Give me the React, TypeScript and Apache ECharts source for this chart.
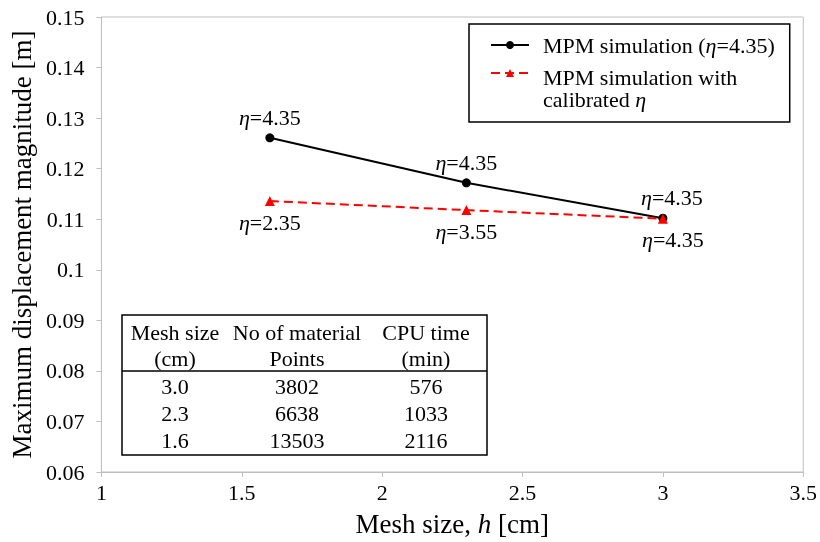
import React, { useEffect, useRef } from "react";
import * as echarts from "echarts";

// ---- data ----
const meshSizes = [1.6, 2.3, 3.0];
const dispConstant = [0.1261, 0.1172, 0.1102];
const dispCalibrated = [0.1136, 0.1118, 0.1101];
const etaConstant = ["4.35", "4.35", "4.35"];
const etaCalibrated = ["2.35", "3.55", "4.35"];
const seriesNames = ["MPM simulation (η=4.35)", "MPM simulation with calibrated η"];

const tableHeader1 = ["Mesh size", "No of material", "CPU time"];
const tableHeader2 = ["(cm)", "Points", "(min)"];
const tableMesh = ["3.0", "2.3", "1.6"];
const tablePoints = ["3802", "6638", "13503"];
const tableCpu = ["576", "1033", "2116"];

const FONT = "Times New Roman";
const AXIS_GRAY = "#bfbfbf";

export default function App() {
  const ref = useRef<HTMLDivElement>(null);

  useEffect(() => {
    const chart = echarts.init(ref.current as HTMLDivElement, null, { renderer: "svg" });

    const richBase = {
      r: { fontFamily: FONT, fontSize: 22, color: "#000" },
      i: { fontFamily: FONT, fontSize: 22, color: "#000", fontStyle: "italic" },
    };

    const colX = [175, 297, 426];
    const tableEls: any[] = [];
    tableEls.push({
      type: "rect",
      shape: { x: 122, y: 315, width: 365, height: 140 },
      style: { fill: "#fff", stroke: "#000", lineWidth: 1.5 },
    });
    tableEls.push({
      type: "line",
      shape: { x1: 122, y1: 371, x2: 487, y2: 371 },
      style: { stroke: "#000", lineWidth: 1.5 },
    });
    const addText = (t: string, x: number, y: number) =>
      tableEls.push({
        type: "text",
        style: {
          text: t,
          x,
          y,
          textAlign: "center",
          textVerticalAlign: "middle",
          font: "22px Liberation Serif",
          fill: "#000",
        },
      });
    tableHeader1.forEach((t, c) => addText(t, colX[c], 332));
    tableHeader2.forEach((t, c) => addText(t, colX[c], 358));
    const rowY = [386, 413, 440];
    tableMesh.forEach((_, r) => {
      addText(tableMesh[r], colX[0], rowY[r]);
      addText(tablePoints[r], colX[1], rowY[r]);
      addText(tableCpu[r], colX[2], rowY[r]);
    });

    const lastIdx = meshSizes.length - 1;

    const option: any = {
      animation: false,
      textStyle: { fontFamily: FONT },
      grid: {
        left: 99,
        right: 16,
        top: 17,
        bottom: 70,
        show: true,
        borderColor: AXIS_GRAY,
        borderWidth: 1,
        containLabel: false,
      },
      legend: {
        orient: "vertical",
        left: 469,
        top: 24,
        padding: [10, 15, 12, 21],
        itemGap: -20,
        itemWidth: 38,
        itemHeight: 10,
        borderColor: "#000",
        borderWidth: 1.5,
        backgroundColor: "#fff",
        data: [
          { name: seriesNames[0] },
          { name: seriesNames[1], textStyle: { padding: [30, 0, 0, 9] } },
        ],
        formatter: (name: string) =>
          name === seriesNames[0]
            ? "{r|MPM simulation (}{i|η}{r|=4.35)}"
            : "{r|MPM simulation with}\n{r|calibrated }{i|η}",
        textStyle: {
          fontFamily: FONT,
          fontSize: 22,
          lineHeight: 22,
          color: "#000",
          padding: [0, 0, 0, 9],
          rich: {
            r: { fontFamily: FONT, fontSize: 22, lineHeight: 22, color: "#000" },
            i: { fontFamily: FONT, fontSize: 22, lineHeight: 22, color: "#000", fontStyle: "italic" },
          },
        },
      },
      xAxis: {
        type: "value",
        min: 1,
        max: 3.5,
        interval: 0.5,
        name: "{r|Mesh size, }{i|h}{r| [cm]}",
        nameLocation: "middle",
        nameGap: 38,
        nameTextStyle: {
          fontFamily: FONT,
          fontSize: 27,
          color: "#000",
          rich: {
            r: { fontFamily: FONT, fontSize: 27, color: "#000" },
            i: { fontFamily: FONT, fontSize: 27, color: "#000", fontStyle: "italic" },
          },
        },
        axisLine: { show: true, lineStyle: { color: AXIS_GRAY, width: 1 } },
        axisTick: { show: true, length: 5, lineStyle: { color: AXIS_GRAY } },
        splitLine: { show: false },
        axisLabel: { fontFamily: FONT, fontSize: 22, color: "#000", margin: 9 },
      },
      yAxis: {
        type: "value",
        min: 0.06,
        max: 0.15,
        interval: 0.01,
        name: "Maximum displacement magnitude [m]",
        nameLocation: "middle",
        nameGap: 64,
        nameTextStyle: { fontFamily: FONT, fontSize: 27, color: "#000" },
        axisLine: { show: true, lineStyle: { color: AXIS_GRAY, width: 1 } },
        axisTick: { show: true, length: 5, lineStyle: { color: AXIS_GRAY } },
        splitLine: { show: false },
        axisLabel: {
          fontFamily: FONT,
          fontSize: 22,
          color: "#000",
          margin: 17,
          formatter: (v: number) => String(parseFloat(v.toFixed(2))),
        },
      },
      series: [
        {
          type: "line",
          name: seriesNames[0],
          data: meshSizes.map((x, i) =>
            i === lastIdx
              ? { value: [x, dispConstant[i]], label: { offset: [9, 0] } }
              : [x, dispConstant[i]]
          ),
          symbol: "circle",
          symbolSize: 9,
          itemStyle: { color: "#000" },
          lineStyle: { color: "#000", width: 2 },
          z: 3,
          label: {
            show: true,
            position: "top",
            distance: 5,
            fontFamily: FONT,
            fontSize: 22,
            color: "#000",
            formatter: (p: any) => `{i|η}{r|=${etaConstant[p.dataIndex]}}`,
            rich: richBase,
          },
        },
        {
          type: "line",
          name: seriesNames[1],
          data: meshSizes.map((x, i) =>
            i === lastIdx
              ? { value: [x, dispCalibrated[i]], label: { offset: [10, 0] } }
              : [x, dispCalibrated[i]]
          ),
          symbol: "triangle",
          symbolSize: 10,
          itemStyle: { color: "#ff0000" },
          lineStyle: { color: "#ff0000", width: 2, type: [9, 5] },
          z: 4,
          label: {
            show: true,
            position: "bottom",
            distance: 5,
            fontFamily: FONT,
            fontSize: 22,
            color: "#000",
            formatter: (p: any) => `{i|η}{r|=${etaCalibrated[p.dataIndex]}}`,
            rich: richBase,
          },
        },
      ],
      graphic: [{ type: "group", children: tableEls }],
    };

    chart.setOption(option);
    return () => chart.dispose();
  }, []);

  return (
    <div
      ref={ref}
      style={{ position: "fixed", left: 0, top: 0, width: 820, height: 542 }}
    />
  );
}
